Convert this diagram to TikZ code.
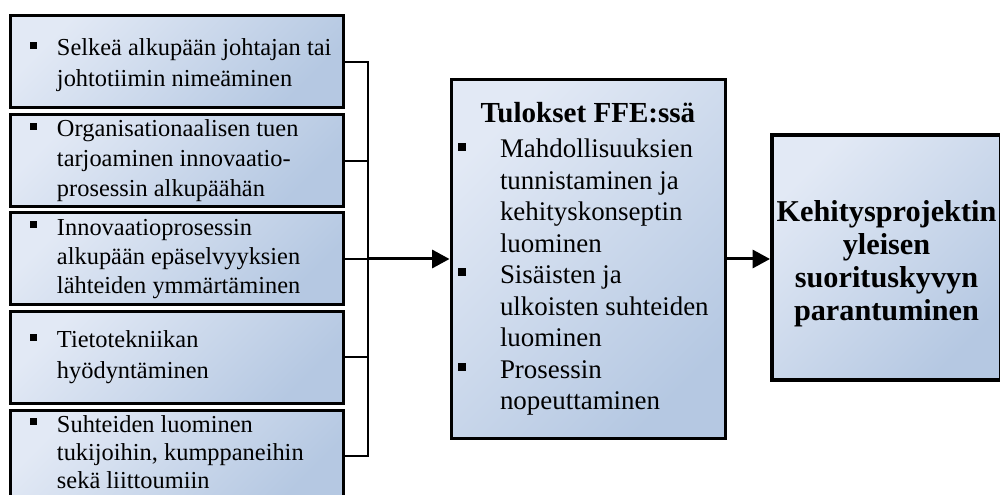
\documentclass[tikz,border=0pt]{standalone}
\usepackage{fontspec}
\setmainfont{Liberation Serif}
\usetikzlibrary{arrows.meta}

\definecolor{boxlight}{HTML}{E2E9F5}
\definecolor{boxdark}{HTML}{B5C8E2}

% lines separated by \\, stacked at a fixed baseline distance (#1)
\newcommand\stack[2]{\vtop{\baselineskip=#1\lineskiplimit=-100pt
  \def\\{\egroup\hbox\bgroup\ignorespaces}\hbox\bgroup\ignorespaces#2\egroup}}
% the same, each line centred in a given width (#2)
\newcommand\cstack[3]{\vtop{\baselineskip=#1\lineskiplimit=-100pt
  \def\\{\hss\egroup\hbox to #2\bgroup\hss\ignorespaces}\hbox to #2\bgroup\hss#3\hss\egroup}}

% square bullets hung to the left of the text
\newcommand\leftbul{\llap{\raisebox{5.25pt}{\rule{5.25pt}{5.25pt}}\hskip15pt}}
\newcommand\midbul{\llap{\raisebox{5.5pt}{\rule{6pt}{6pt}}\hskip25.5pt}}

% bulleted text of a factor box
\newcommand\itemtext[2]{\hbox to 249.75pt{\hskip35.25pt\stack{#1}{\leftbul#2}\hss}}

\tikzset{
  box/.style={draw=black, line width=2.25pt, top color=boxlight, bottom color=boxdark,
    shading angle=45, inner xsep=0pt, inner ysep=0pt},
  leftbox/.style={box, minimum width=249.75pt, minimum height=69pt,
    font=\fontsize{18.3}{22}\selectfont},
  midbox/.style={box, minimum width=205.5pt, minimum height=268.5pt,
    font=\fontsize{20.2}{23.6}\selectfont},
  resultbox/.style={box, line width=3pt, minimum width=171.75pt,
    minimum height=183.75pt, font=\fontsize{22.7}{24.75}\selectfont\bfseries},
  link/.style={line width=1.5pt},
  flow/.style={line width=2.25pt, -{Triangle[length=13pt,width=13.5pt]}}
}

\begin{document}
\begin{tikzpicture}[x=0.75pt, y=-0.75pt]
\useasboundingbox (0,0) rectangle (1000,495);

% influencing factors
\node[leftbox] (l1) at (176.5,62)
  {\vbox{\kern5pt\itemtext{23.25pt}{Selkeä alkupään johtajan tai\\ johtotiimin nimeäminen}}};
\node[leftbox] (l2) at (176.5,161)
  {\itemtext{22.5pt}{Organisationaalisen tuen\\ tarjoaminen innovaatio-\\ prosessin alkupäähän}};
\node[leftbox] (l3) at (176.5,259)
  {\itemtext{21.75pt}{Innovaatioprosessin\\ alkupään epäselvyyksien\\ lähteiden ymmärtäminen}};
\node[leftbox] (l4) at (176.5,357.5)
  {\itemtext{23.25pt}{Tietotekniikan\\ hyödyntäminen}};
\node[leftbox] (l5) at (176.5,456)
  {\vbox{\itemtext{21pt}{Suhteiden luominen\\ tukijoihin, kumppaneihin\\ sekä liittoumiin}\kern6pt}};

% outcomes in the front end
\node[midbox] (mid) at (588,259) {\vbox{\baselineskip=26.25pt\lineskiplimit=-100pt
  \hbox to 205.5pt{\hss\fontsize{21.8}{26}\bfseries Tulokset FFE:ssä\hss}
  \hbox to 205.5pt{\hskip36.75pt\stack{23.6pt}{%
    \midbul Mahdollisuuksien\\ tunnistaminen ja\\ kehityskonseptin\\ luominen\\
    \midbul Sisäisten ja\\ ulkoisten suhteiden\\ luominen\\
    \midbul Prosessin\\ nopeuttaminen}\hss}}};

% overall result
\node[resultbox] (res) at (886.5,257.5) {\vbox{\kern9pt
  \cstack{24.75pt}{171.75pt}{Kehitysprojektin\\ yleisen\\ suorituskyvyn\\ parantuminen}}};

% collecting bus
\coordinate (join) at (368,259);
\draw[link] (l1.east) -| (join);
\draw[link] (l2.east) -| (join);
\draw[link] (l3.east) -- (join);
\draw[link] (l4.east) -| (join);
\draw[link] (l5.east) -| (join);

% flow arrows
\draw[flow] (join) -- (mid.west);
\draw[flow] (mid.east) -- (mid.east -| res.west);
\end{tikzpicture}
\end{document}
